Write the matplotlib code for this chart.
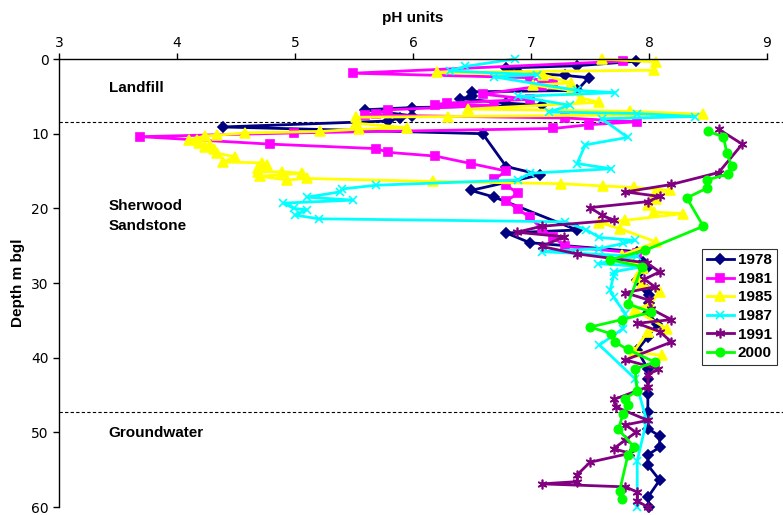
"""
pH profiles with depth below ground level, six sampling years.
"""

import matplotlib.pyplot as plt

# 1978
depth_1978 = [0.3, 0.9, 1.2, 1.8, 2.2, 2.5, 4.2, 4.4, 5.0, 5.3, 5.9, 6.2, 6.5, 6.8, 7.6, 7.9, 8.3,
              9.1, 10.0, 14.4, 15.5, 17.6, 18.5, 22.9, 23.3, 24.6, 25.8, 27.2, 28.0, 29.6, 31.0,
              31.6, 32.7, 34.0, 35.5, 37.2, 39.0, 41.5, 42.8, 44.8, 47.3, 49.5, 50.5, 52.0, 53.0,
              54.4, 56.4, 58.7, 60.0]
ph_1978 = [7.89, 7.39, 6.79, 6.89, 7.29, 7.49, 7.39, 6.50, 6.50, 6.40, 6.79, 7.09, 5.99, 5.59, 5.99,
           5.89, 5.79, 4.39, 6.59, 6.79, 7.08, 6.49, 6.69, 7.39, 6.79, 6.99, 7.90, 7.95, 7.98, 7.90,
           7.98, 8.00, 8.00, 7.99, 8.07, 7.99, 7.90, 7.99, 7.99, 7.99, 7.99, 7.99, 8.09, 8.09, 7.99,
           7.99, 8.09, 7.99, 8.00]

# 1981
depth_1981 = [0.3, 1.9, 2.5, 3.3, 3.6, 4.7, 5.4, 5.9, 6.1, 6.2, 6.8, 7.3, 7.5, 7.9, 8.4, 8.8, 9.3,
              9.9, 10.4, 11.4, 12.0, 12.5, 13.0, 14.0, 15.0, 16.1, 16.9, 18.0, 19.0, 20.1, 21.2,
              22.7, 23.9, 25.1, 26.0]
ph_1981 = [7.78, 5.49, 6.99, 7.19, 7.09, 6.59, 6.99, 6.29, 6.19, 6.69, 5.79, 5.69, 5.59, 7.29, 7.90,
           7.49, 7.19, 4.99, 3.69, 4.79, 5.69, 5.79, 6.19, 6.49, 6.79, 6.69, 6.79, 6.89, 6.79, 6.89,
           6.99, 7.09, 7.19, 7.29, 7.90]

# 1985
depth_1985 = [0.0, 0.4, 1.5, 1.8, 2.1, 3.2, 3.5, 4.2, 5.2, 5.8, 6.7, 7.0, 7.4, 7.7, 7.8, 8.6, 9.2,
              9.4, 9.7, 9.9, 10.2, 10.3, 10.8, 10.9, 11.3, 11.5, 11.8, 12.1, 12.6, 13.1, 13.8, 13.9,
              14.2, 14.6, 15.1, 15.1, 15.3, 15.7, 16.2, 16.0, 16.4, 16.7, 17.0, 17.2, 17.6, 17.9,
              18.7, 19.6, 20.5, 20.7, 21.6, 21.9, 22.7, 24.5, 26.3, 26.9, 28.0, 29.2, 30.1, 31.2,
              32.8, 33.6, 36.1, 36.5, 39.2, 39.7]
ph_1985 = [7.60, 8.06, 8.04, 6.20, 7.10, 7.34, 7.02, 7.34, 7.42, 7.58, 6.47, 7.84, 8.46, 6.30, 5.52,
           5.52, 5.95, 5.54, 5.21, 4.58, 4.34, 4.24, 4.10, 4.17, 4.19, 4.28, 4.24, 4.31, 4.34, 4.49,
           4.39, 4.72, 4.76, 4.69, 4.69, 4.89, 5.06, 4.70, 4.93, 5.10, 6.17, 7.25, 7.61, 7.87, 8.18,
           8.05, 8.06, 7.99, 8.04, 8.29, 7.80, 7.58, 7.75, 8.06, 7.77, 7.85, 7.95, 7.90, 7.94, 8.09,
           8.01, 7.88, 8.15, 7.99, 7.87, 8.11]

# 1987
depth_1987 = [0.0, 1.0, 1.6, 2.1, 2.4, 4.2, 4.5, 5.0, 6.2, 7.1, 7.3, 7.7, 8.0, 10.5, 11.5, 14.0, 14.7,
              15.3, 16.2, 16.9, 17.4, 17.8, 18.5, 18.9, 19.3, 20.0, 20.2, 20.9, 21.4, 21.8, 22.9,
              23.9, 24.3, 24.7, 25.4, 25.8, 26.4, 27.4, 27.8, 28.5, 29.0, 31.0, 31.9, 34.1, 36.1,
              38.3, 42.8, 48.4, 53.8, 60.0]
ph_1987 = [6.86, 6.44, 6.31, 7.05, 6.69, 7.39, 7.71, 6.89, 7.33, 7.15, 7.90, 8.39, 7.60, 7.82, 7.46,
           7.39, 7.68, 6.99, 6.89, 5.69, 5.40, 5.38, 5.10, 5.49, 4.90, 4.99, 5.10, 5.00, 5.20, 7.29,
           7.47, 7.58, 7.88, 7.78, 7.58, 7.09, 7.90, 7.57, 7.95, 7.70, 7.70, 7.67, 7.70, 7.80, 7.78,
           7.58, 7.88, 7.98, 7.90, 7.90]

# 1991
depth_1991 = [9.4, 11.4, 15.2, 16.8, 17.8, 18.4, 19.1, 19.9, 20.9, 21.6, 22.4, 23.2, 23.8, 25.1, 26.1,
              27.3, 28.5, 29.5, 30.5, 31.3, 32.3, 33.5, 34.9, 35.4, 36.5, 37.9, 40.3, 41.5, 42.3,
              43.9, 45.6, 46.6, 48.4, 49.0, 50.0, 51.0, 52.2, 52.8, 54.0, 55.7, 56.6, 56.9, 57.3,
              58.0, 59.2, 60.0]
ph_1991 = [8.59, 8.79, 8.59, 8.19, 7.80, 8.09, 7.99, 7.50, 7.60, 7.70, 7.09, 6.88, 7.28, 7.09, 7.39,
           7.98, 8.09, 7.96, 8.05, 7.80, 8.00, 8.02, 8.19, 7.90, 8.09, 8.19, 7.80, 8.08, 7.99, 7.99,
           7.70, 7.72, 7.99, 7.80, 7.89, 7.80, 7.70, 7.84, 7.50, 7.39, 7.39, 7.09, 7.80, 7.90, 7.90,
           7.99]

# 2000
depth_2000 = [9.7, 10.4, 12.6, 14.3, 15.4, 16.2, 17.3, 18.6, 22.4, 25.6, 26.9, 27.8, 32.8, 33.9, 34.9,
              35.9, 36.8, 37.9, 38.9, 40.6, 41.5, 44.4, 45.5, 46.4, 47.5, 49.6, 51.9, 53.1, 57.9,
              58.9]
ph_2000 = [8.50, 8.63, 8.66, 8.70, 8.67, 8.49, 8.49, 8.32, 8.46, 7.97, 7.67, 7.94, 7.82, 8.02, 7.77,
           7.50, 7.68, 7.71, 7.82, 8.05, 7.88, 7.90, 7.80, 7.82, 7.78, 7.74, 7.87, 7.82, 7.75, 7.77]

# boundaries between landfill / sandstone / groundwater
boundaries = [8.4, 47.3]
zones = ["Landfill", "Sherwood\nSandstone", "Groundwater"]
zone_depths = [3.9, 21.0, 50.1]

series = [
    ("1978", depth_1978, ph_1978, "#000080", "D", 5),
    ("1981", depth_1981, ph_1981, "#FF00FF", "s", 6),
    ("1985", depth_1985, ph_1985, "#FFFF00", "^", 7),
    ("1987", depth_1987, ph_1987, "#00FFFF", "x", 6),
    ("1991", depth_1991, ph_1991, "#800080", (6, 2, 0), 7),
    ("2000", depth_2000, ph_2000, "#00FF00", "o", 6),
]


def main():
    fig = plt.figure(figsize=(7.83, 5.15), dpi=100)
    ax = fig.add_axes([0.0754, 0.0155, 0.9042, 0.8699])

    for label, depth, ph, color, marker, size in series:
        ax.plot(ph, depth, color=color, marker=marker, markersize=size, linewidth=2,
                markeredgewidth=1.2, label=label, clip_on=False)

    for d in boundaries:
        ax.plot([3, 9.14], [d, d], color="black", linestyle=(0, (3, 2)), linewidth=0.8,
                clip_on=False, zorder=1)

    for text, d in zip(zones, zone_depths):
        ax.text(3.42, d, text, fontsize=11, fontweight="bold", va="center",
                family="Liberation Sans", linespacing=1.6)

    ax.set_xlim(3, 9)
    ax.set_ylim(60, 0)
    ax.set_xticks(range(3, 10))
    ax.set_yticks(range(0, 61, 10))
    ax.xaxis.tick_top()
    ax.xaxis.set_label_position("top")
    for side in ("right", "bottom"):
        ax.spines[side].set_visible(False)
    for side in ("top", "left"):
        ax.spines[side].set_linewidth(1.0)
    ax.tick_params(direction="out", length=4, width=1, labelsize=10)
    ax.tick_params(axis="x", pad=2.5)
    ax.tick_params(axis="y", pad=3.5)
    for lbl in ax.get_xticklabels() + ax.get_yticklabels():
        lbl.set_family(["Liberation Sans Narrow", "DejaVu Sans"])

    ax.set_xlabel("pH units", fontsize=11, fontweight="bold", family="Liberation Sans", labelpad=10)
    ax.set_ylabel("Depth m bgl", fontsize=11, fontweight="bold", family="Liberation Sans", labelpad=4)

    leg = fig.legend(loc="upper left", bbox_to_anchor=(0.8966, 0.517), frameon=True, fancybox=False,
                     prop={"family": "Liberation Sans", "weight": "bold", "size": 11},
                     handlelength=1.8, labelspacing=0.3, borderpad=0.3, borderaxespad=0,
                     handletextpad=0.25)
    leg.get_frame().set_edgecolor("black")
    leg.get_frame().set_linewidth(0.8)

    fig.savefig("out.png", dpi=100)


if __name__ == "__main__":
    main()
